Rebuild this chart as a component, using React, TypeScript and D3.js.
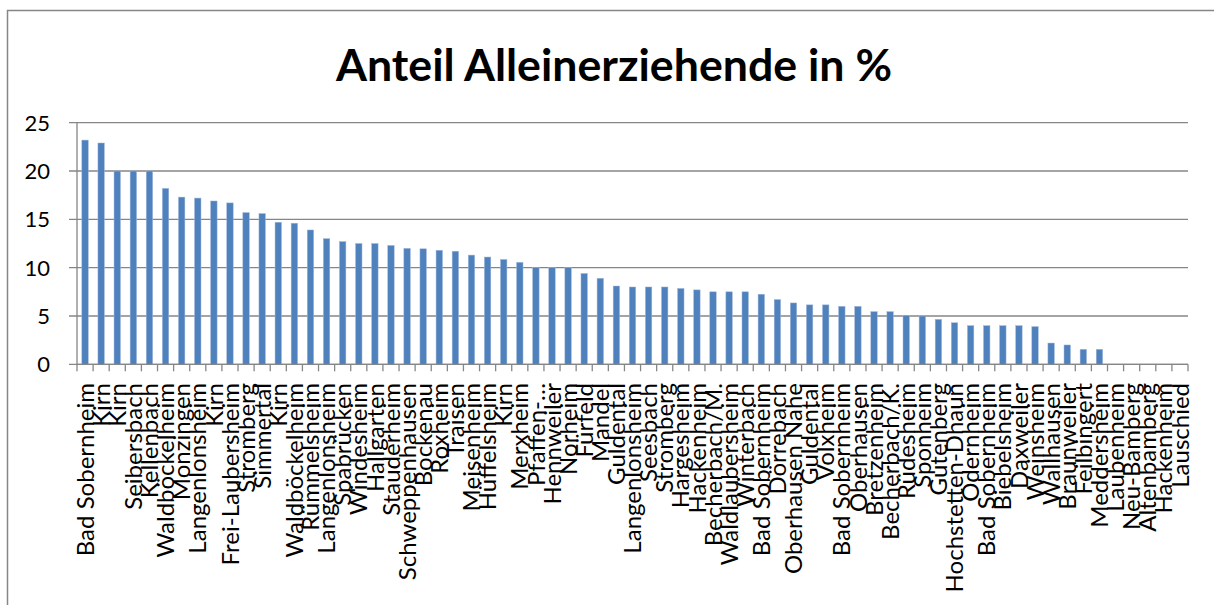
import React from 'react';
import * as d3 from 'd3';

// Gemeinden, sortiert nach Anteil (Reihenfolge wie im Original)
const gemeinden = [
  'Bad Sobernheim', 'Kirn', 'Kirn', 'Seibersbach', 'Kellenbach', 'Waldböckelheim',
  'Monzingen', 'Langenlonsheim', 'Kirn', 'Frei-Laubersheim', 'Stromberg', 'Simmertal',
  'Kirn', 'Waldböckelheim', 'Rümmelsheim', 'Langenlonsheim', 'Spabrücken', 'Windesheim',
  'Hallgarten', 'Stauderheim', 'Schweppenhausen', 'Bockenau', 'Roxheim', 'Traisen',
  'Meisenheim', 'Hüffelsheim', 'Kirn', 'Merxheim', 'Pfaffen-…', 'Hennweiler',
  'Norheim', 'Fürfeld', 'Mandel', 'Guldental', 'Langenlonsheim', 'Seesbach',
  'Stromberg', 'Hargesheim', 'Hackenheim', 'Becherbach/M.', 'Waldlaubersheim', 'Winterbach',
  'Bad Sobernheim', 'Dörrebach', 'Oberhausen Nahe', 'Guldental', 'Volxheim', 'Bad Sobernheim',
  'Oberhausen', 'Bretzenheim', 'Becherbach/K.', 'Rüdesheim', 'Sponheim', 'Gutenberg',
  'Hochstetten-Dhaun', 'Odernheim', 'Bad Sobernheim', 'Biebelsheim', 'Daxweiler', 'Weinsheim',
  'Wallhausen', 'Braunweiler', 'Feilbingert', 'Meddersheim', 'Laubenheim', 'Neu-Bamberg',
  'Altenbamberg', 'Hackenheim', 'Lauschied',
];

// Anteil Alleinerziehende in %
const anteil = [
  23.2, 22.9, 20.0, 20.0, 20.0, 18.2,
  17.3, 17.2, 16.9, 16.7, 15.7, 15.6,
  14.7, 14.6, 13.9, 13.0, 12.7, 12.5,
  12.5, 12.3, 12.0, 11.95, 11.8, 11.7,
  11.3, 11.1, 10.85, 10.55, 10.0, 10.0,
  10.0, 9.4, 8.9, 8.1, 8.0, 8.0,
  8.0, 7.85, 7.7, 7.5, 7.5, 7.5,
  7.25, 6.7, 6.35, 6.15, 6.15, 6.0,
  6.0, 5.45, 5.45, 5.05, 5.0, 4.65,
  4.3, 4.0, 4.0, 4.0, 4.0, 3.9,
  2.2, 2.0, 1.55, 1.55, 0, 0,
  0, 0, 0,
];

const yTicks = [0, 5, 10, 15, 20, 25];

const W = 1214;
const H = 605;
const plot = { left: 77, right: 1188, top: 122.7, bottom: 364.3 };
const grey = '#868686';
const font = 'Lato, "Open Sans", sans-serif';

export default function App() {
  const x = d3
    .scaleBand<number>()
    .domain(d3.range(gemeinden.length))
    .range([plot.left, plot.right])
    .paddingInner(0.6)
    .paddingOuter(0.3);

  const y = d3.scaleLinear().domain([0, 25]).range([plot.bottom, plot.top]);

  // tick marks sit on the category boundaries
  const boundaries = d3.range(gemeinden.length + 1).map(i => plot.left + i * (plot.right - plot.left) / gemeinden.length);

  return (
    <svg
      width={W}
      height={H}
      style={{ position: 'absolute', left: 0, top: 0, background: '#fff' }}
      fontFamily={font}
    >
      {/* chart frame, runs off the right and bottom edges */}
      <rect x={7.5} y={10.5} width={1230} height={640} fill="#fff" stroke={grey} strokeWidth={1.5} />

      <text
        x={614}
        y={81}
        textAnchor="middle"
        fontSize={43}
        fontWeight={700}
        textLength={556}
        lengthAdjust="spacingAndGlyphs"
        fill="#000"
      >
        Anteil Alleinerziehende in %
      </text>

      {/* gridlines + y ticks */}
      {yTicks.map(t => (
        <g key={t}>
          <line x1={plot.left - 8} x2={plot.right} y1={y(t)} y2={y(t)} stroke={grey} strokeWidth={1.3} />
          <text x={50} y={y(t)} dy="0.36em" textAnchor="end" fontSize={22} fill="#000">
            {t}
          </text>
        </g>
      ))}

      {/* y axis */}
      <line x1={plot.left} x2={plot.left} y1={plot.top} y2={plot.bottom} stroke={grey} strokeWidth={1.3} />

      {/* bars */}
      {anteil.map((v, i) => (
        <rect
          key={i}
          x={x(i)}
          y={y(v)}
          width={x.bandwidth()}
          height={plot.bottom - y(v)}
          fill="#4F81BD"
          stroke="#9fb8dc"
          strokeWidth={0.5}
        />
      ))}

      {/* x axis with tick marks between categories */}
      <line x1={plot.left} x2={plot.right} y1={plot.bottom} y2={plot.bottom} stroke={grey} strokeWidth={1.3} />
      {boundaries.map((bx, i) => (
        <line key={i} x1={bx} x2={bx} y1={plot.bottom} y2={plot.bottom + 7} stroke={grey} strokeWidth={1.3} />
      ))}

      {/* category labels, rotated */}
      {gemeinden.map((g, i) => {
        const cx = (x(i) ?? 0) + x.bandwidth() / 2;
        return (
          <text
            key={i}
            transform={`translate(${cx},383) rotate(-90)`}
            dy="0.36em"
            textAnchor="end"
            fontSize={24}
            fill="#000"
          >
            {g}
          </text>
        );
      })}
    </svg>
  );
}
